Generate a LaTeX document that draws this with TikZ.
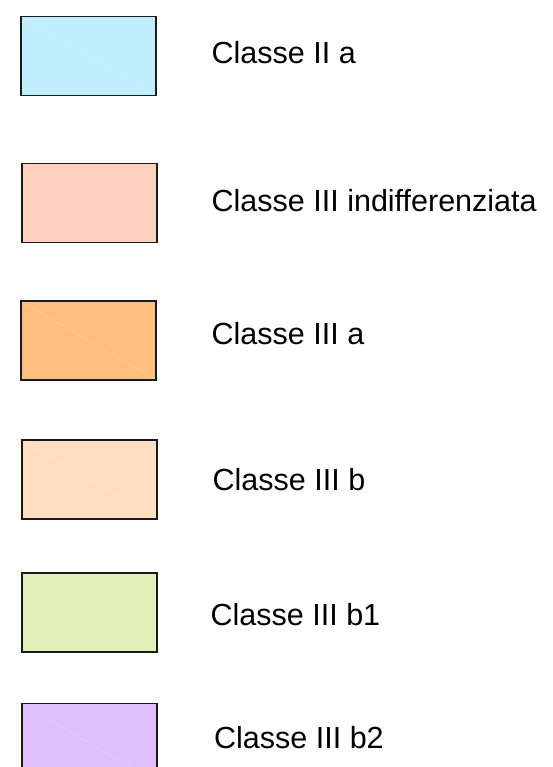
\documentclass[tikz,border=0pt]{standalone}
\usepackage{fontspec}
\setmainfont{Liberation Sans}
\definecolor{cIIa}{HTML}{C0EEFF}
\definecolor{cIIIind}{HTML}{FFD0C0}
\definecolor{cIIIa}{HTML}{FFBF80}
\definecolor{cIIIb}{HTML}{FFDFC0}
\definecolor{cIIIbone}{HTML}{E0EFB8}
\definecolor{cIIIbtwo}{HTML}{DFC0FF}
\definecolor{edge}{HTML}{1A1A1A}
\tikzset{
  swatch/.style={draw=edge, line width=1.5pt, rectangle, inner sep=0pt,
    minimum width=135pt, minimum height=79pt},
  sheen/.style={draw=white, opacity=0.25, line width=0.5pt},
  lbl/.style={anchor=base west, inner sep=0pt, font=\fontsize{30.5}{36}\selectfont, text=black}
}
\begin{document}
\begin{tikzpicture}[x=1pt,y=-1pt]
\useasboundingbox (0,0) rectangle (552,767);
\clip (0,0) rectangle (552,767);
\node[swatch, fill=cIIa]     (b1) at (88.5,56) {};
\node[swatch, fill=cIIIind]  (b2) at (89.5,203) {};
\node[swatch, fill=cIIIa]    (b3) at (88.5,340.5) {};
\node[swatch, fill=cIIIb]    (b4) at (89.5,479.5) {};
\node[swatch, fill=cIIIbone] (b5) at (89.5,612.5) {};
\node[swatch, fill=cIIIbtwo] (b6) at (89.5,743) {};
\foreach \b in {b1,b2,b3,b4,b5,b6}{
  \draw[sheen] ([shift={(1.5,1.5)}]\b.north west) -- ([shift={(-1.5,-1.5)}]\b.south east);
}
\node[lbl] (t1) at (211.5,63.3) {Classe II a};
\node[lbl] (t2) at (211.5,211.5) {Classe III indifferenziata};
\node[lbl] (t3) at (211.5,344) {Classe III a};
\node[lbl] (t4) at (212.5,490) {Classe III b};
\node[lbl] (t5) at (210.5,625) {Classe III b1};
\node[lbl] (t6) at (214,748) {Classe III b2};
\end{tikzpicture}
\end{document}
